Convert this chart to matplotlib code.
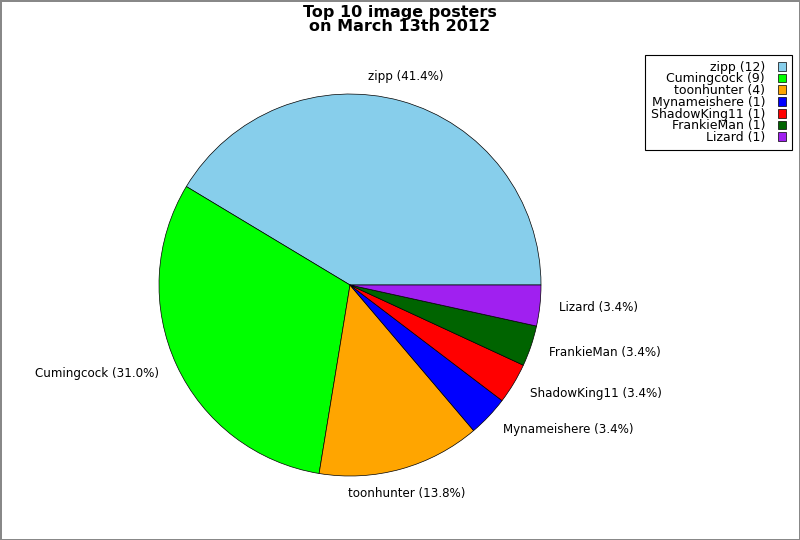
import matplotlib
matplotlib.use('Agg')
import matplotlib.pyplot as plt
import numpy as np

# Top image posters on March 13th 2012
posters = ['zipp', 'Cumingcock', 'toonhunter', 'Mynameishere',
           'ShadowKing11', 'FrankieMan', 'Lizard']
counts = [12, 9, 4, 1, 1, 1, 1]
colors = ['#87CEEB', '#00FF00', '#FFA500', '#0000FF',
          '#FF0000', '#006400', '#A020F0']

total = sum(counts)
pie_labels = [f'{p} ({c / total * 100:.1f}%)' for p, c in zip(posters, counts)]
legend_labels = [f'{p} ({c})' for p, c in zip(posters, counts)]

fig = plt.figure(figsize=(8, 5.4), dpi=100, edgecolor='#888888', linewidth=2)
ax = fig.add_axes([0.19875, 0.1185, 0.4775, 0.7074])

wedges, texts = ax.pie(counts, labels=pie_labels, colors=colors,
                       startangle=0, counterclock=True, labeldistance=1.1,
                       wedgeprops={'edgecolor': 'black', 'linewidth': 0.5},
                       textprops={'fontsize': 8.6})

# labels near the top/bottom of the pie are centred on their anchor
for w, t in zip(wedges, texts):
    mid = np.deg2rad((w.theta1 + w.theta2) / 2)
    if abs(np.cos(mid)) < 0.3:
        t.set_horizontalalignment('center')
        t.set_verticalalignment('bottom' if np.sin(mid) > 0 else 'top')

ax.set_xlim(-1, 1)
ax.set_ylim(-1, 1)
ax.set_aspect('equal')
ax.axis('off')

fig.suptitle('Top 10 image posters\non March 13th 2012', fontsize=11.5,
             fontweight='bold', y=0.991, linespacing=0.9)

leg = fig.legend(wedges, legend_labels, loc='upper right',
                 bbox_to_anchor=(0.99, 0.898), borderaxespad=0,
                 markerfirst=False, fontsize=9, labelspacing=-0.1,
                 handlelength=0.7, handleheight=0.7, handletextpad=1.0,
                 borderpad=0.45, fancybox=False, framealpha=1,
                 edgecolor='black')
leg.get_frame().set_linewidth(0.8)

fig.savefig('out.png', dpi=100)
